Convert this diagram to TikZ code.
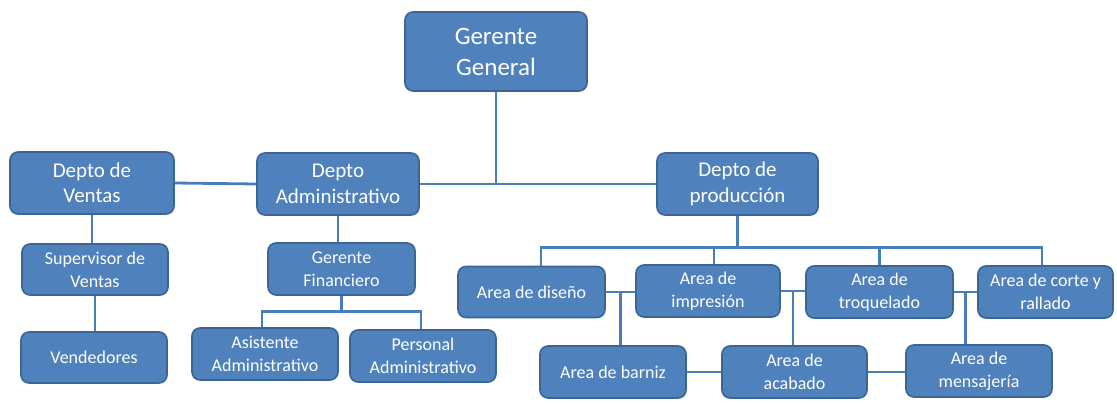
\documentclass[tikz,border=0pt]{standalone}
\usepackage{fontspec}
\setmainfont{Carlito}
\usetikzlibrary{calc}
\definecolor{boxfill}{HTML}{4F81BD}
\definecolor{boxedge}{HTML}{3A6594}
\definecolor{wire}{HTML}{4A7EBB}
\begin{document}
\begin{tikzpicture}[x=1pt,y=-1pt,
  unit/.style={draw=boxedge, line width=1.6pt, fill=boxfill, rounded corners=8pt,
    text=white, align=center, inner sep=0pt},
  top/.style={unit, font=\fontsize{25}{31}\selectfont},
  dept/.style={unit, font=\fontsize{21}{25.5}\selectfont},
  area/.style={unit, font=\fontsize{18}{23}\selectfont},
  link/.style={draw=wire, line width=2.8pt}]
\path[use as bounding box] (0,0) rectangle (1117,404);

% top level
\node[top, minimum width=182, minimum height=79] (gg) at (496,51.5) {Gerente\\General};

% departments
\node[dept, minimum width=164, minimum height=62] (ven) at (92,183) {Depto de\\Ventas};
\node[dept, minimum width=162, minimum height=62] (adm) at (338,184) {Depto\\Administrativo};
\node[dept, minimum width=161, minimum height=62] (prod) at (737.5,184) {Depto de\\producción};

% sales
\node[area, minimum width=146, minimum height=51] (sup) at (95,269.5) {Supervisor de\\Ventas};
\node[area, minimum width=146, minimum height=51] (vend) at (94,357.5) {Vendedores};

% administration
\node[area, minimum width=147, minimum height=52] (fin) at (341.5,269) {Gerente\\Financiero};
\node[area, minimum width=146, minimum height=52] (asi) at (265,354) {Asistente\\Administrativo};
\node[area, minimum width=146, minimum height=52] (per) at (423,356) {Personal\\Administrativo};

% production areas
\node[area, minimum width=147, minimum height=51] (dis) at (531.5,292) {Area de diseño};
\node[area, minimum width=144, minimum height=52] (imp) at (708,291) {Area de\\impresión};
\node[area, minimum width=147, minimum height=52] (tro) at (879.5,292) {Area de\\troquelado};
\node[area, minimum width=135, minimum height=52] (cor) at (1045.5,292) {Area de corte y\\rallado};
\node[area, minimum width=146, minimum height=52] (bar) at (613,372) {Area de barniz};
\node[area, minimum width=145, minimum height=52] (aca) at (794.5,372) {Area de\\acabado};
\node[area, minimum width=146, minimum height=52] (men) at (979,371) {Area de\\mensajería};

% upper links
\draw[link] (ven.east) -- (adm.west);
\draw[link] (adm.east) -- (prod.west);
\draw[link] (gg.south) -- (gg.south |- prod.west);

% sales chain
\draw[link] (ven.south) -- (ven.south |- sup.north);
\draw[link] (sup.south) -- (sup.south |- vend.north);

% administration tree
\draw[link] (adm.south) -- (adm.south |- fin.north);
\draw[link] (fin.south) -- ++(0,16) coordinate (fb);
\draw[link] ([xshift=-3pt]asi.north) |- (fb) -| ([xshift=-2pt]per.north);

% production tree
\draw[link] (prod.south) -- ++(0,32) coordinate (pb);
\draw[link] ([xshift=9.5pt]dis.north) |- (pb) -| ([xshift=-3.5pt]cor.north);
\draw[link] ([xshift=6pt]imp.north) -- ([xshift=6pt]imp.north |- pb);
\draw[link] (tro.north) -- (tro.north |- pb);

% links between areas
\draw[link] (dis.east) -- (dis.east -| imp.west);
\draw[link] (imp.east) -- (imp.east -| tro.west);
\draw[link] (tro.east) -- (tro.east -| cor.west);
\coordinate (m1) at ($(dis.east)!0.5!(imp.west)$);
\coordinate (m2) at ($(imp.east)!0.5!(tro.west)$);
\coordinate (m3) at ($(tro.east)!0.5!(cor.west)$);
\draw[link] (m1) -- (m1 |- bar.north);
\draw[link] (m2) -- (m2 |- aca.north);
\draw[link] (m3) -- (m3 |- men.north);
\draw[link] (bar.east) -- (aca.west);
\draw[link] (aca.east) -- (aca.east -| men.west);
\end{tikzpicture}
\end{document}
